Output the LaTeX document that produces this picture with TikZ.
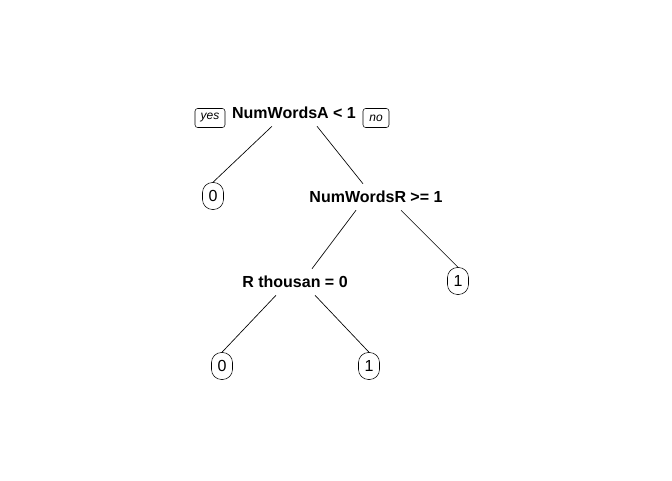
\documentclass[tikz,border=0pt]{standalone}
\usepackage{fontspec}
\setmainfont{Liberation Sans}
\usepackage{tikz}
\usetikzlibrary{positioning,calc}

\begin{document}
\begin{tikzpicture}[
  x=0.75pt, y=-0.75pt,
  split/.style={font=\fontsize{12}{14}\selectfont\bfseries, inner sep=0pt, minimum height=19.5pt},
  leaf/.style={draw, rounded corners=7.5pt, minimum width=15.75pt, minimum height=20.25pt, inner sep=0pt, font=\fontsize{12}{14}\selectfont},
  dirlab/.style={draw, rounded corners=2pt, minimum width=22.5pt, minimum height=14.25pt, inner sep=0pt, font=\fontsize{9}{10}\selectfont\itshape},
  branch/.style={line width=0.5pt}
]
  \useasboundingbox (0,0) rectangle (672,480);

  % Splits
  \node[split] (root) at (294,113) {NumWordsA < 1};
  \node[split] (nwr) at (376,197) {NumWordsR >= 1};
  \node[split] (rth) at (295,282) {R thousan = 0};

  % Direction labels
  \node[dirlab] (yes) at (210,118) {yes};
  \node[dirlab, minimum width=19.5pt] (no) at (376,118) {no};

  % Leaves
  \node[leaf] (L1) at (213,196) {0};
  \node[leaf] (L2) at (458,281) {1};
  \node[leaf] (L3) at (222,366) {0};
  \node[leaf] (L4) at (369,366) {1};

  % Branches
  \draw[branch] ([xshift=-16.5pt]root.south) -- (L1.north);
  \draw[branch] ([xshift=17.25pt]root.south) -- ([xshift=-9.75pt]nwr.north);
  \draw[branch] ([xshift=-15pt]nwr.south) -- ([xshift=12.75pt]rth.north);
  \draw[branch] ([xshift=18.75pt]nwr.south) -- (L2.north);
  \draw[branch] ([xshift=-14.25pt]rth.south) -- (L3.north);
  \draw[branch] ([xshift=15pt]rth.south) -- (L4.north);
\end{tikzpicture}
\end{document}
